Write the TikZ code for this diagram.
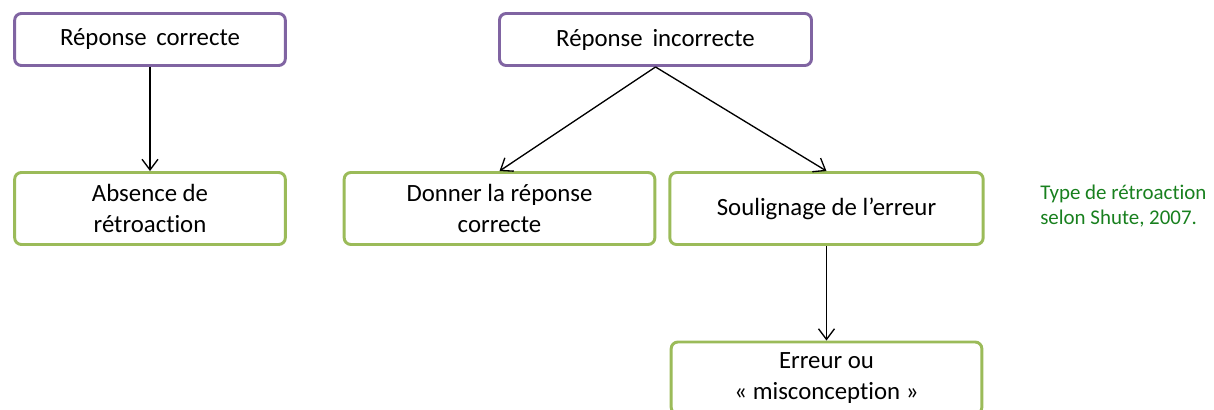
\documentclass[tikz,border=0pt]{standalone}
\usepackage{fontspec}
\setmainfont{Carlito}[Ligatures={NoCommon}]
\definecolor{qpurple}{RGB}{128,100,162}
\definecolor{qgreen}{RGB}{155,187,89}
\definecolor{notegreen}{RGB}{24,128,30}
\usetikzlibrary{arrows.meta,positioning}
\begin{document}
\begin{tikzpicture}[x=0.75pt, y=-0.75pt,
    qbox/.style={draw=qpurple, line width=2.2pt, rounded corners=5pt, fill=white, minimum height=39pt, align=center, font=\fontsize{18.6}{23}\selectfont},
    rbox/.style={draw=qgreen, line width=2.2pt, rounded corners=5pt, fill=white, minimum height=54pt, align=center, font=\fontsize{18.6}{23}\selectfont},
    fleche/.style={-{Straight Barb[length=8pt, width=12pt]}, line width=1pt, black}]
  \useasboundingbox (0,0) rectangle (1214,410);

  % Questions
  \node[qbox, minimum width=203pt] (correct) at (150,39.5) {Réponse\, correcte};
  \node[qbox, minimum width=234pt] (incorrect) at (655.5,39.5) {Réponse\, incorrecte};

  % Retroactions
  \node[rbox, minimum width=203pt] (absence) at (150,208.5) {Absence de\\rétroaction};
  \node[rbox, minimum width=233pt] (donner) at (499.5,208.5) {Donner la réponse\\correcte};
  \node[rbox, minimum width=235pt] (souligne) at (826.5,208.5) {Soulignage de l’erreur};
  \node[rbox, minimum width=233pt] (erreur) at (826.5,378) {Erreur ou\\« misconception »};

  % Note
  \node[align=left, anchor=west, inner sep=0pt, text=notegreen, font=\fontsize{15.7}{19}\selectfont] (note) at (1040,206) {Type de rétroaction\\selon Shute, 2007.};

  \draw[fleche] (correct.south) -- (absence.north);
  \draw[fleche] (incorrect.south) -- (donner.north);
  \draw[fleche] (incorrect.south) -- (souligne.north);
  \draw[fleche] (souligne.south) -- (erreur.north);
\end{tikzpicture}
\end{document}
